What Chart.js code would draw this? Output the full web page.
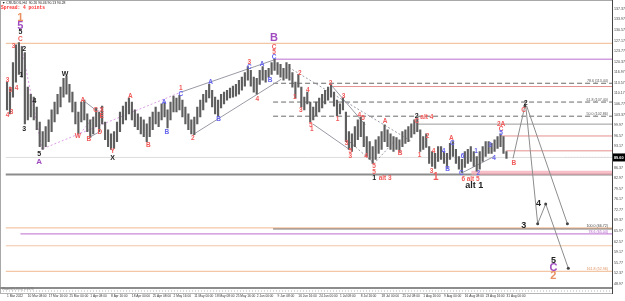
<!DOCTYPE html>
<html>
<head>
<meta charset="utf-8">
<script src="https://cdn.jsdelivr.net/npm/chart.js@4.4.0/dist/chart.umd.min.js"></script>
<style>
  html, body { margin: 0; padding: 0; background: #fff; }
  #wrap { position: relative; width: 625px; height: 301px; }
</style>
</head>
<body>
<div id="wrap"><canvas id="chart" width="625" height="301"></canvas></div>
<script>
// CRUDOIL H4 (un tramo por vela agregada)
const highs = [113.8,112.2,120.1,125.8,126.5,125.2,123.3,112.2,109.9,109.0,105.8,101.0,97.9,99.5,101.7,104.9,107.4,109.9,112.2,115.0,
  115.7,113.1,110.6,107.4,104.2,107.4,108.0,103.6,101.7,102.6,105.5,104.2,106.1,101.0,98.5,97.2,97.9,101.0,104.2,106.1,
  107.4,108.7,107.4,104.9,103.6,102.6,101.7,100.4,102.6,104.2,105.8,104.2,106.8,107.4,104.9,107.4,109.3,108.7,109.6,108.0,
  105.8,103.6,101.7,102.6,105.8,108.0,109.9,111.2,113.1,111.2,109.0,108.0,109.9,110.6,111.2,111.9,112.5,113.1,114.4,115.4,
  116.9,118.8,117.6,115.4,115.0,117.6,118.8,117.6,118.2,120.1,121.1,120.1,119.5,118.2,120.1,119.5,116.9,113.8,116.3,112.2,
  109.0,110.6,107.4,105.8,107.4,108.7,109.9,111.2,112.2,113.1,110.6,108.0,106.8,108.7,104.2,97.9,97.2,99.5,101.7,102.6,
  101.0,96.3,94.7,93.1,95.3,96.3,97.9,100.1,98.5,97.2,96.3,96.0,95.3,97.9,98.5,99.5,100.4,101.7,102.0,98.5,
  96.3,97.2,93.1,91.5,90.9,93.1,93.1,91.5,90.9,94.1,94.7,92.2,89.9,89.0,91.5,92.2,93.1,91.5,89.9,91.5,
  93.1,94.7,94.7,94.1,95.3,96.3,97.2,96.3,91.5];
const lows = [104.9,103.6,109.0,113.8,116.3,115.4,100.4,101.7,102.6,101.7,98.5,93.1,92.2,93.1,94.7,97.9,101.0,103.6,105.8,109.0,
  109.9,107.4,104.2,100.4,97.2,101.0,101.7,97.9,96.0,97.2,99.5,97.9,100.4,95.3,93.1,92.2,92.5,94.7,97.9,100.4,
  101.7,103.6,101.7,99.5,98.5,97.2,96.3,94.7,96.3,98.5,100.4,99.5,101.7,102.6,99.1,101.7,104.2,104.2,104.9,102.6,
  100.4,98.5,97.2,96.9,100.4,102.6,104.9,107.4,108.7,105.8,103.6,102.6,105.5,106.8,108.0,108.7,109.0,109.3,109.9,111.2,
  112.5,114.4,112.5,110.6,109.9,113.1,114.4,113.8,115.4,116.3,117.6,116.3,115.4,114.4,115.0,114.4,112.2,108.7,112.2,105.8,
  104.9,106.8,101.0,101.7,103.0,104.2,105.5,106.8,108.0,109.0,106.1,103.0,103.6,104.9,94.7,92.2,91.5,93.1,95.3,96.3,
  93.1,89.9,89.0,87.7,89.0,90.9,92.2,94.7,93.1,92.2,91.5,92.2,91.5,93.1,94.1,94.7,96.0,97.2,97.9,91.5,
  92.2,92.8,87.7,86.7,86.1,88.3,89.0,87.7,86.4,89.0,89.9,87.7,85.8,84.8,86.4,87.7,88.3,86.7,85.2,85.8,
  88.3,89.9,90.9,90.9,91.5,92.5,93.1,90.9,89.3];

const dateLabels = ['1 Mar 2022','10 Mar 08:00','17 Mar 16:00','25 Mar 00:00','1 Apr 08:00','8 Apr 16:00',
  '18 Apr 00:00','25 Apr 08:00','2 May 16:00','11 May 00:00','18 May 08:00','25 May 16:00','2 Jun 00:00',
  '9 Jun 08:00','16 Jun 16:00','24 Jun 00:00','1 Jul 08:00','8 Jul 16:00','18 Jul 00:00','25 Jul 08:00',
  '1 Aug 16:00','9 Aug 00:00','16 Aug 08:00','23 Aug 16:00','31 Aug 00:00'];
const barsPerDateLabel = 7;

const priceTicks = [137.37,133.97,130.57,127.17,123.77,120.37,116.97,113.57,110.17,106.77,103.37,99.97,96.57,
  93.17,89.77,86.37,82.97,79.57,76.17,72.77,69.37,65.97,62.57,59.17,55.77,52.37,48.97];
const currentPrice = 89.60;

// niveles horizontales: precio, vela donde empiezan, texto a la derecha
const levelPrices = [126.25,121.16,113.44,112.39,107.40,102.86,100.31,96.50,91.73,89.60,89.60,84.65,84.15,66.94,66.72,65.04,61.22,52.96];
const levelStarts = [-0.5,89.5,89.5,109.5,89.5,89.5,137.8,166.2,167.8,-0.5,187.8,156.2,-0.5,-0.5,89.5,4.5,-0.5,-0.5];
const levelTexts  = ['','','78.6 (113.44)','','61.8 (107.40)','50.0 (102.86)','','','','','','','','','100.0 (66.72)','78.6 (65.04)','','161.8 (52.96)'];

// líneas de tendencia y proyección: [[vela, precio], ...]
const trendLines = [
  [[4.8,125.51],[11.8,92.15]],
  [[12.2,92.46],[58.5,110.58]],
  [[58.5,110.58],[90.2,121.07]],
  [[62.5,96.91],[92.2,114.71]],
  [[23.8,96.28],[31.8,105.81]],
  [[25.5,108.04],[29.8,104.86]],
  [[27.5,95.96],[31.2,97.87]],
  [[94.8,118.52],[136.2,94.69]],
  [[108.8,113.12],[120.5,100.09]],
  [[102.8,100.41],[115.2,92.15]],
  [[115.2,94.69],[123.5,87.70],[130.2,94.69]],
  [[152.8,84.52],[163.8,89.92]]
];
const projections = [
  [[170.2,89.29],[174.2,106.13]],
  [[174.5,106.13],[178.5,68.31],[181.2,74.67],[188.8,54.01]],
  [[174.8,106.13],[188.5,68.31]]
];

// etiquetas de ondas: texto, vela, precio, estilo
const waveLabels = [
  ['1',4.5,134.41,'O'],['5',4.5,131.87,'P'],['5',4.5,129.96,'k'],['C',4.5,127.74,'r'],
  ['3',2.2,125.51,'r'],['2',5.8,124.56,'k'],['1',4.8,115.98,'k'],['4',9.2,107.72,'k'],['3',5.8,98.82,'k'],
  ['3',0.2,114.39,'r'],['5',1.2,111.21,'r'],['4',0.2,103.27,'r'],['3',1.5,104.22,'r'],['4',3.2,111.85,'r'],
  ['5',10.8,90.56,'k'],['A',10.8,88.33,'p'],
  ['W',19.5,116.30,'k'],['W',23.8,96.28,'r'],['A',25.5,108.04,'r'],['B',27.5,95.32,'r'],['C',29.8,104.86,'r'],
  ['D',31.2,97.87,'r'],['X',31.8,104.86,'r'],['E',31.8,102.95,'r'],['Y',35.5,91.51,'r'],['X',35.5,89.29,'k'],
  ['A',41.5,109.31,'r'],['B',47.5,93.42,'r'],['A',52.8,107.40,'b'],['B',53.8,97.87,'b'],
  ['1',58.5,111.85,'r'],['C',58.5,109.94,'b'],['2',62.5,95.64,'r'],['A',68.5,113.76,'b'],['B',71.2,102.00,'b'],
  ['3',81.5,120.11,'r'],['C',81.5,118.52,'b'],['4',84.2,108.35,'r'],['A',85.8,119.48,'b'],['B',88.5,114.39,'b'],
  ['B',89.8,128.06,'P'],['C',89.8,124.88,'r'],['5',89.8,123.29,'r'],['C',89.8,121.70,'b'],
  ['1',96.8,108.99,'r'],['2',98.5,116.62,'r'],['3',98.8,104.86,'r'],['4',101.2,111.21,'r'],['5',102.2,100.09,'r'],
  ['1',102.5,98.82,'r'],['2',108.8,113.44,'r'],['1',111.2,102.00,'r'],['3',113.2,109.31,'r'],['4',118.5,103.27,'r'],
  ['5',119.8,102.32,'r'],['3',114.2,94.05,'r'],['5',115.5,91.51,'r'],['3',115.5,89.92,'r'],['4',120.8,89.92,'r'],
  ['5',123.5,86.74,'r'],['5',123.5,84.84,'r'],['1',123.5,82.93,'k'],['alt 3',127.2,82.93,'r'],
  ['A',127.2,101.36,'r'],['B',132.2,90.87,'r'],
  ['2',137.8,102.95,'k'],['C',137.8,101.36,'r'],['alt 4',141.2,102.63,'r'],['2',141.5,96.28,'r'],
  ['1',138.8,90.24,'r'],['4',143.5,91.51,'r'],['3',142.8,85.15,'r'],['1',144.2,83.25,'R'],
  ['4',146.8,91.51,'b'],['B',148.2,85.79,'b'],['A',149.5,95.64,'r'],['C',149.8,94.05,'b'],
  ['6',153.2,89.92,'b'],['C',152.8,84.52,'b'],['6',153.5,82.61,'r'],['alt 5',156.8,82.61,'r'],['alt 1',157.2,80.70,'K'],
  ['1',157.8,91.51,'b'],['2',158.5,84.52,'b'],['3',162.5,93.42,'b'],['4',163.8,89.29,'b'],
  ['2A',166.2,100.41,'r'],['C',166.2,98.82,'r'],['5',166.2,97.55,'b'],['B',170.5,87.70,'r'],
  ['2',174.5,107.08,'k'],['C',173.8,104.86,'r'],['3',173.8,67.68,'K'],['4',178.8,74.67,'K'],
  ['5',183.8,56.55,'K'],['C',183.8,54.01,'P'],['2',183.8,51.47,'O']
];

// ---- estilos ----
const PEACH = '#f3c6a5', LAV = '#d29ee0', REDL = '#e58f8f', DGRAY = '#6a6a6a';
const levelStyles = [
  [PEACH,1.2],[LAV,1.5],[DGRAY,1,[5,3]],[REDL,1],[DGRAY,1,[5,3]],[DGRAY,1,[5,3]],['#9a9a9a',1],[REDL,1],[REDL,1],
  ['#dedede',1],['#e06060',1,[1,2]],['rgba(244,170,180,0.75)',4],['#8c8c8c',2],[PEACH,1.2],['#7a7a7a',1.5],
  ['#c98ad8',1.2],[PEACH,1.2],[PEACH,1.2]
];
const levelTextColors = {2:'#555',4:'#555',5:'#555',14:'#444',15:'#b060c8',17:'#e09060'};
const waveStyles = {
  r: ['#f25a5a', 'bold 6.5px Arial'],
  R: ['#f25a5a', 'bold 10px Arial'],
  b: ['#6464ee', 'bold 6.5px Arial'],
  k: ['#222', 'bold 7px Arial'],
  K: ['#222', 'bold 9px Arial'],
  p: ['#a04cc0', 'bold 8px Arial'],
  P: ['#a04cc0', 'bold 11px Arial'],
  O: ['#e89060', 'bold 11px Arial']
};
const xMax = 203.5;

const datasets = [];

datasets.push({
  type: 'bar',
  label: 'CRUDOIL',
  data: highs.map((h, i) => ({ x: i, y: [lows[i], h] })),
  backgroundColor: '#5e5e5e',
  barThickness: 1.5,
  order: 1
});

levelPrices.forEach((p, i) => {
  const st = levelStyles[i];
  datasets.push({
    type: 'line',
    data: [{ x: levelStarts[i], y: p }, { x: xMax, y: p }],
    borderColor: st[0],
    borderWidth: st[1],
    borderDash: st[2] || [],
    pointRadius: 0,
    order: 3
  });
});

trendLines.forEach((pts, i) => {
  const pink = i === 0 || i === 1 || i === 4;
  const dotted = pink || i === 7 || i === 10;
  datasets.push({
    type: 'line',
    data: pts.map(p => ({ x: p[0], y: p[1] })),
    borderColor: pink ? '#dc9ee6' : '#9a9aa6',
    borderWidth: 1,
    borderDash: dotted ? [2, 2] : [],
    pointRadius: 0,
    order: 2
  });
});

projections.forEach(pts => {
  datasets.push({
    type: 'line',
    data: pts.map(p => ({ x: p[0], y: p[1] })),
    borderColor: '#8c8c8c',
    borderWidth: 1,
    pointRadius: pts.map((_, j) => (j === 0 ? 0 : 1.5)),
    pointBackgroundColor: '#444',
    pointBorderWidth: 0,
    order: 2
  });
});

const overlay = {
  id: 'overlay',
  afterDatasetsDraw(chart) {
    const { ctx, chartArea: a, scales: { x, y } } = chart;
    ctx.save();
    // textos de niveles
    ctx.textAlign = 'right';
    ctx.textBaseline = 'bottom';
    ctx.font = '3.6px Arial';
    levelTexts.forEach((t, i) => {
      if (!t) return;
      ctx.fillStyle = levelTextColors[i] || '#555';
      ctx.fillText(t, a.right - 4, y.getPixelForValue(levelPrices[i]) - 0.5);
    });
    // etiquetas de ondas
    ctx.textAlign = 'center';
    ctx.textBaseline = 'middle';
    waveLabels.forEach(([t, xv, pv, k]) => {
      const s = waveStyles[k];
      ctx.fillStyle = s[0];
      ctx.font = s[1];
      ctx.fillText(t, x.getPixelForValue(xv), y.getPixelForValue(pv));
    });
    ctx.restore();
  },
  afterDraw(chart) {
    const { ctx, chartArea: a, scales: { y } } = chart;
    ctx.save();
    // marco
    ctx.strokeStyle = '#a8a8a8';
    ctx.lineWidth = 1;
    ctx.beginPath();
    ctx.moveTo(0, 0.5); ctx.lineTo(a.right, 0.5);
    ctx.moveTo(0.5, 0); ctx.lineTo(0.5, 294);
    ctx.stroke();
    ctx.strokeStyle = '#8c8c8c';
    ctx.lineWidth = 2;
    ctx.beginPath();
    ctx.moveTo(0, a.bottom + 1); ctx.lineTo(a.right, a.bottom + 1);
    ctx.stroke();
    ctx.strokeStyle = '#b4b4b4';
    ctx.lineWidth = 1;
    ctx.beginPath();
    ctx.moveTo(0, 293.5); ctx.lineTo(a.right, 293.5);
    ctx.stroke();
    ctx.setLineDash([1, 2]);
    ctx.beginPath();
    ctx.moveTo(0, 291); ctx.lineTo(a.right, 291);
    ctx.stroke();
    ctx.setLineDash([]);
    ctx.strokeStyle = '#444';
    ctx.beginPath();
    ctx.moveTo(a.right + 0.5, 0); ctx.lineTo(a.right + 0.5, 294);
    ctx.stroke();
    // cabecera
    ctx.textAlign = 'left';
    ctx.textBaseline = 'middle';
    ctx.fillStyle = '#222';
    ctx.font = '3.4px Arial';
    ctx.fillText('\u25BC CRUDOIL,H4  90.26 90.46 90.13 90.28', 2, 3.5);
    ctx.fillStyle = '#ff3030';
    ctx.font = 'bold 4.6px "Liberation Mono"';
    ctx.fillText('Spread: 4 points', 1, 8);
    ctx.fillStyle = '#777';
    ctx.font = '3.2px Arial';
    ctx.fillText('WaveS(5,35,5) 0.1571', 2, 289.6);
    // precio actual
    const py = y.getPixelForValue(currentPrice);
    ctx.fillStyle = '#000';
    ctx.fillRect(a.right + 1, py - 4, 625 - a.right - 1, 8);
    ctx.fillStyle = '#fff';
    ctx.font = 'bold 3.8px Arial';
    ctx.fillText(currentPrice.toFixed(2), a.right + 2, py);
    ctx.restore();
  }
};

new Chart(document.getElementById('chart'), {
  type: 'bar',
  data: { datasets },
  plugins: [overlay],
  options: {
    responsive: false,
    animation: false,
    devicePixelRatio: 1,
    layout: { padding: { top: 1, left: 0, right: 0, bottom: 0 } },
    plugins: { legend: { display: false }, tooltip: { enabled: false } },
    scales: {
      x: {
        type: 'linear',
        min: -0.5,
        max: xMax,
        offset: false,
        grid: { display: false, drawTicks: false },
        border: { display: false },
        afterBuildTicks: (s) => { s.ticks = dateLabels.map((_, i) => ({ value: i * barsPerDateLabel })); },
        afterFit: (s) => { s.height = 14; },
        ticks: {
          autoSkip: false,
          maxRotation: 0,
          align: 'start',
          padding: 7,
          color: '#333',
          font: { size: 3.2, family: 'Arial' },
          callback: (v, i) => dateLabels[i]
        }
      },
      y: {
        type: 'linear',
        position: 'right',
        min: 47.97,
        max: 138.86,
        grid: { display: false, drawTicks: false },
        border: { display: false },
        afterBuildTicks: (s) => { s.ticks = priceTicks.map(v => ({ value: v })); },
        afterFit: (s) => { s.width = 13; },
        ticks: {
          padding: 2,
          color: '#444',
          font: { size: 3.6, family: 'Arial' },
          callback: (v) => v.toFixed(2)
        }
      }
    }
  }
});
</script>
</body>
</html>
